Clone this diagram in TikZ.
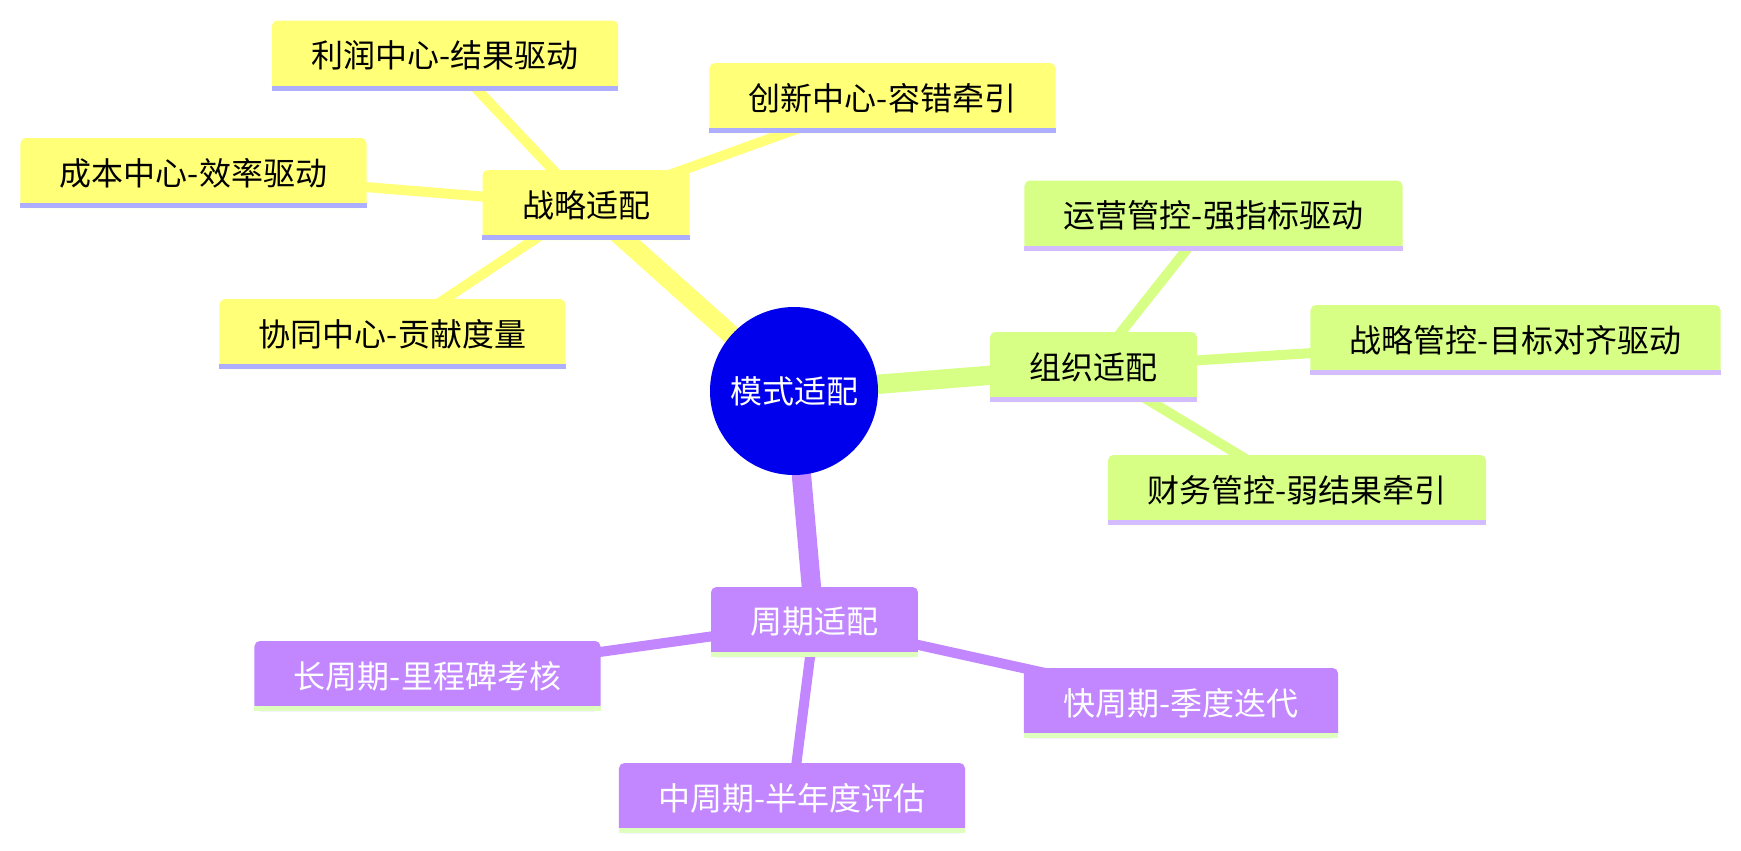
\documentclass[tikz,border=0pt]{standalone}
\usepackage{fontspec}
\setmainfont{Noto Sans CJK SC}
\usepackage{tikz}
\usetikzlibrary{positioning,backgrounds}
\definecolor{mmroot}    {HTML}{0000EC}
\definecolor{mmyellow}  {HTML}{FFFF78}
\definecolor{mmgreen}   {HTML}{D7FF86}
\definecolor{mmpurple}  {HTML}{C286FF}
\definecolor{mmlavender}{HTML}{AEAEFF}
\definecolor{mmlilac}   {HTML}{D3BCFF}
\definecolor{mmmint}    {HTML}{DFFFBF}
\tikzset{
  mmnode/.style={rounded corners=4pt, inner xsep=29.6pt, inner ysep=0pt,
                 minimum height=52.5pt, font=\fontsize{24}{28}\selectfont},
  mmcentre/.style={circle, fill=mmroot, text=white, minimum size=126pt,
                 inner sep=0pt, font=\fontsize{24}{28}\selectfont},
  mmyellownode/.style={mmnode, fill=mmyellow},
  mmgreennode/.style={mmnode, fill=mmgreen},
  mmpurplenode/.style={mmnode, fill=mmpurple, text=white},
  mmtrunk/.style={line width=14.5pt},
  mmtwig/.style={line width=7.5pt},
}

\begin{document}
\begin{tikzpicture}[x=0.75pt, y=-0.75pt]
  \useasboundingbox (0,0) rectangle (1741,850);
  % centre and the three branches
  \node[mmcentre] (mode) at (794,391) {模式适配};
  \node[mmyellownode] (strat) at (586,205)   {战略适配};
  \node[mmgreennode]  (org)   at (1093.5,367) {组织适配};
  \node[mmpurplenode] (cycle) at (814.5,622) {周期适配};
  % leaves
  \node[mmyellownode] (profit)   at (445,55.5)   {利润中心-结果驱动};
  \node[mmyellownode] (cost)     at (193.5,173)  {成本中心-效率驱动};
  \node[mmyellownode] (synergy)  at (392.5,334)  {协同中心-贡献度量};
  \node[mmyellownode] (innov)    at (882.5,98)   {创新中心-容错牵引};
  \node[mmgreennode]  (opctl)    at (1213.5,215.5) {运营管控-强指标驱动};
  \node[mmgreennode]  (stratctl) at (1515.5,340) {战略管控-目标对齐驱动};
  \node[mmgreennode]  (finctl)   at (1297,490)   {财务管控-弱结果牵引};
  \node[mmpurplenode] (longc)    at (427.5,676)  {长周期-里程碑考核};
  \node[mmpurplenode] (fastc)    at (1181,703)   {快周期-季度迭代};
  \node[mmpurplenode] (midc)     at (792,798)    {中周期-半年度评估};
  % underlines
  \foreach \n/\c in {strat/mmlavender, profit/mmlavender, cost/mmlavender,
                     synergy/mmlavender, innov/mmlavender,
                     org/mmlilac, opctl/mmlilac, stratctl/mmlilac, finctl/mmlilac,
                     cycle/mmmint, longc/mmmint, fastc/mmmint, midc/mmmint}
    { \fill[\c] ([yshift=3.75pt]\n.south west) rectangle (\n.south east); }
  \begin{scope}[on background layer]
    \draw[mmyellow, mmtrunk] (mode.center) -- (strat.center);
    \draw[mmgreen, mmtrunk]  (mode.center) -- (org.center);
    \draw[mmpurple, mmtrunk] (mode.center) -- (cycle.center);
    \foreach \n in {profit, cost, synergy, innov}
      { \draw[mmyellow, mmtwig] (strat.center) -- (\n.center); }
    \foreach \n in {opctl, stratctl, finctl}
      { \draw[mmgreen, mmtwig] (org.center) -- (\n.center); }
    \foreach \n in {longc, fastc, midc}
      { \draw[mmpurple, mmtwig] (cycle.center) -- (\n.center); }
  \end{scope}
\end{tikzpicture}
\end{document}
